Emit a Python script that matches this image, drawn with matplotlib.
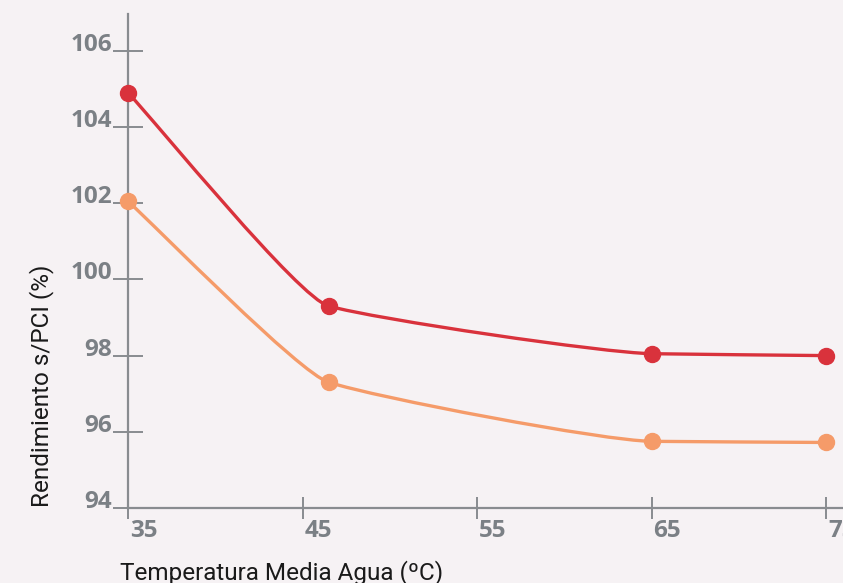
import numpy as np
import matplotlib
matplotlib.use("Agg")
import matplotlib.pyplot as plt
import matplotlib.transforms as mtransforms
from matplotlib.path import Path
from matplotlib.patches import PathPatch

# data
temperatura = [35, 46.5, 65, 75]
rend_red = [104.9, 99.3, 98.05, 98.0]
rend_orange = [102.05, 97.3, 95.75, 95.72]
x_ticks = [35, 45, 55, 65, 75]
y_ticks = [94, 96, 98, 100, 102, 104, 106]

BG = "#f6f2f4"
AXIS = "#898c90"
TICKTXT = "#7b8085"
RED = "#d9323c"
ORANGE = "#f59b69"


def smooth_path(xs, ys, arm=0.15):
    # monotone (Fritsch-Carlson) tangents, short bezier handles
    xs = np.asarray(xs, float)
    ys = np.asarray(ys, float)
    h = np.diff(xs)
    d = np.diff(ys) / h
    m = np.zeros_like(xs)
    m[0], m[-1] = d[0], d[-1]
    for k in range(1, len(xs) - 1):
        if d[k - 1] * d[k] > 0:
            w1 = 2 * h[k] + h[k - 1]
            w2 = h[k] + 2 * h[k - 1]
            m[k] = (w1 + w2) / (w1 / d[k - 1] + w2 / d[k])
    verts = [(xs[0], ys[0])]
    codes = [Path.MOVETO]
    for k in range(len(xs) - 1):
        a = h[k] * arm
        verts += [(xs[k] + a, ys[k] + m[k] * a),
                  (xs[k + 1] - a, ys[k + 1] - m[k + 1] * a),
                  (xs[k + 1], ys[k + 1])]
        codes += [Path.CURVE4] * 3
    return Path(verts, codes)


W, H = 843, 583
fig = plt.figure(figsize=(W / 100, H / 100), dpi=100, facecolor=BG)
ax = fig.add_axes([128 / W, (H - 508) / H, (W - 128) / W, (508 - 14) / H])
ax.set_facecolor(BG)

for ys, col in [(rend_red, RED), (rend_orange, ORANGE)]:
    ax.add_patch(PathPatch(smooth_path(temperatura, ys), fill=False,
                           edgecolor=col, lw=2.4, transform=ax.transData,
                           clip_on=False, zorder=3))
    ax.plot(temperatura, ys, "o", color=col, ms=11.5, clip_on=False, zorder=4)

ax.set_xlim(35, 35 + (W - 128) / 17.45)
ax.set_ylim(94, 94 + 494 / 38.1)

for sp in ["top", "right"]:
    ax.spines[sp].set_visible(False)
for sp in ["left", "bottom"]:
    ax.spines[sp].set_color(AXIS)
    ax.spines[sp].set_linewidth(1.6)

ax.set_xticks(x_ticks)
ax.set_yticks(y_ticks)
ax.tick_params(axis="y", direction="inout", length=21, width=1.4, color=AXIS,
               labelcolor=TICKTXT, labelsize=17.5, pad=1)
ax.tick_params(axis="x", direction="inout", length=16, width=1.4, color=AXIS,
               labelcolor=TICKTXT, labelsize=17.5, pad=0)

up = mtransforms.ScaledTranslation(0, 9 / 100, fig.dpi_scale_trans)
for lab in ax.get_yticklabels():
    lab.set_fontfamily("Open Sans")
    lab.set_fontweight("bold")
    lab.set_transform(lab.get_transform() + up)

right = mtransforms.ScaledTranslation(2 / 100, 0, fig.dpi_scale_trans)
for lab in ax.get_xticklabels():
    lab.set_fontfamily("Open Sans")
    lab.set_fontweight("bold")
    lab.set_horizontalalignment("left")
    lab.set_transform(lab.get_transform() + right)

fig.text(120 / W, 1 - 579 / H, "Temperatura Media Agua (ºC)", fontsize=17.5,
         family="Roboto", color="#1a1a1a", ha="left", va="baseline")
fig.text(42 / W, 1 - 507 / H, "Rendimiento s/PCI (%)", fontsize=17.5,
         family="Roboto", color="#1a1a1a", rotation=90, ha="center", va="bottom")

fig.savefig("out.png", dpi=100, facecolor=BG)
